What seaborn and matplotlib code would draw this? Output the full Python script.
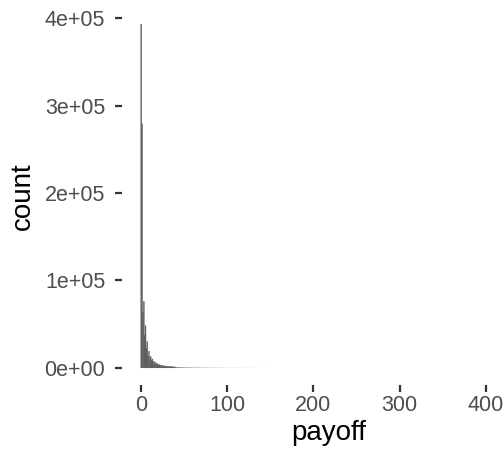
import matplotlib
matplotlib.use("Agg")
import matplotlib.pyplot as plt
from matplotlib.ticker import FuncFormatter
import numpy as np
import pandas as pd
import seaborn as sns

# Payoff values (integers) and how many times each occurred
payoff_head = list(range(0, 61))
count_head = [
    393000, 279000, 63000, 76000, 37000, 48000, 22000, 30000, 13500, 19000,
    11000, 13000, 8000, 10000, 6000, 7500, 4800, 6000, 4000, 4600,
    3300, 3800, 2800, 3200, 2300, 2600, 2000, 2200, 1700, 1900,
    1500, 1600, 1350, 1450, 1200, 1300, 1100, 1150, 1000, 1050,
    900, 850, 820, 780, 750, 720, 690, 660, 630, 600,
    580, 560, 540, 520, 500, 480, 460, 440, 425, 410,
    395,
]
payoff_mid = list(range(61, 151))
count_mid = [
    380, 365, 350, 340, 330, 320, 310, 300, 290, 280,
    270, 262, 254, 246, 238, 230, 223, 216, 209, 202,
    196, 190, 184, 178, 172, 166, 160, 155, 150, 145,
    140, 135, 130, 126, 122, 118, 114, 110, 106, 102,
    98, 95, 92, 89, 86, 83, 80, 78, 76, 74,
    72, 70, 68, 66, 64, 62, 60, 58, 56, 54,
    52, 51, 50, 49, 48, 47, 46, 45, 44, 43,
    42, 41, 40, 39, 38, 37, 36, 35, 34, 33,
    32, 31, 30, 29, 28, 27, 26, 25, 24, 23,
]
payoff_tail = [163, 187, 214, 245, 281, 322, 357, 396, 436]
count_tail = [20, 12, 8, 5, 3, 2, 1, 1, 1]

x_ticks = [0, 100, 200, 300, 400]
y_ticks = [0, 100000, 200000, 300000, 400000]

df = pd.DataFrame({
    "payoff": payoff_head + payoff_mid + payoff_tail,
    "n": count_head + count_mid + count_tail,
})

sns.set_theme(style="white")
plt.rcParams["font.family"] = ["Liberation Sans", "DejaVu Sans"]

W, H = 504, 455
fig = plt.figure(figsize=(W / 100, H / 100), dpi=100)
left, right, top, bottom = 122, 536, 7, 385
ax = fig.add_axes([left / W, 1 - bottom / H, (right - left) / W, (bottom - top) / H])

lo, hi = df["payoff"].min() - 0.5, df["payoff"].max() + 0.5
sns.histplot(data=df, x="payoff", weights="n", binwidth=1, binrange=(lo, hi),
             color="#595959", alpha=1, linewidth=0.3, edgecolor="#595959",
             snap=False, antialiased=True, ax=ax)

# thin outline only on the taller bars, so low bins stay as faint as their height
for patch in ax.patches:
    h = patch.get_height()
    if h <= 0:
        patch.set_visible(False)
    elif h < 1000:
        patch.set_linewidth(0)

span = hi - lo
ax.set_xlim(lo - 0.05 * span, hi + 0.05 * span)
ymax = max(df["n"])
ax.set_ylim(-0.05 * ymax, 1.05 * ymax)

ax.set_xticks(x_ticks)
ax.set_yticks(y_ticks)


def sci(v, _):
    if v == 0:
        return "0e+00"
    exp = int(np.floor(np.log10(abs(v))))
    mant = v / 10 ** exp
    return f"{mant:.0f}e+{exp:02d}"


ax.yaxis.set_major_formatter(FuncFormatter(sci))

for s in ax.spines.values():
    s.set_visible(False)

ax.tick_params(axis="both", which="major", direction="out", length=5, width=1.6,
               color="#333333", labelsize=15.5, labelcolor="#4D4D4D",
               bottom=True, left=True)
ax.tick_params(axis="x", pad=2.5)
ax.tick_params(axis="y", pad=7)
ax.grid(False)

ax.set_xlabel("payoff", fontsize=20, color="black")
ax.set_ylabel("count", fontsize=20, color="black")
ax.xaxis.set_label_coords(0.5, -0.093)
ax.xaxis.label.set_va("top")
ax.yaxis.set_label_coords(-0.208, 0.5)

fig.savefig("out.png", dpi=100)
